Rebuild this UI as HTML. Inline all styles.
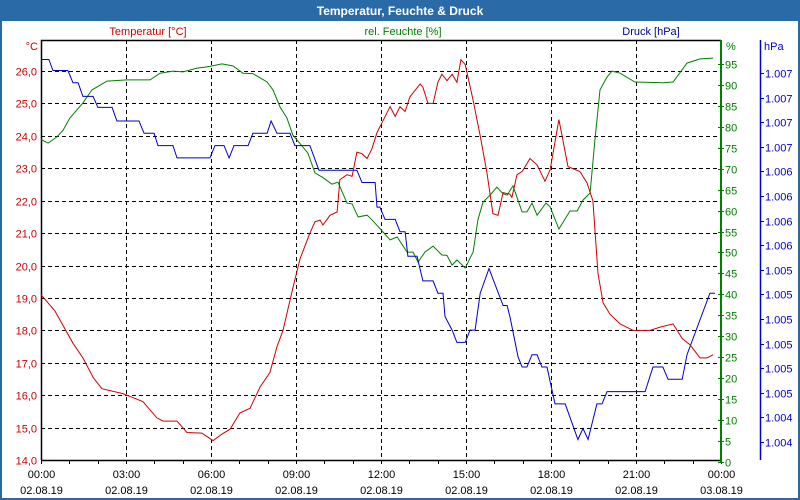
<!DOCTYPE html>
<html><head><meta charset="utf-8"><style>
html,body{margin:0;padding:0;background:#fff;}
svg{display:block;font-family:"Liberation Sans","DejaVu Sans",sans-serif;}
</style></head><body>
<svg id="chart" width="800" height="500" viewBox="0 0 800 500">
<rect x="0" y="0" width="800" height="500" fill="#2a6aa6"/>
<rect x="2" y="21" width="796" height="477" fill="#ffffff"/>
<text x="400" y="15" text-anchor="middle" font-size="12" font-weight="bold" fill="#ffffff">Temperatur, Feuchte &amp; Druck</text>
<text x="148" y="35" text-anchor="middle" font-size="11" fill="#cc0000">Temperatur [°C]</text>
<text x="403" y="35" text-anchor="middle" font-size="11" fill="#008000">rel. Feuchte [%]</text>
<text x="651" y="35" text-anchor="middle" font-size="11" fill="#000099">Druck [hPa]</text>
<text x="38" y="50" text-anchor="end" font-size="11" fill="#cc0000">°C</text>
<text x="726" y="50" font-size="11" fill="#008000">%</text>
<text x="764" y="50" font-size="11" fill="#0000cc">hPa</text>
<g id="grid"></g>
<g id="axes"></g>
<g id="series"></g>
</svg>
<script>
// ---- data ----
const timeTicks = ["00:00","03:00","06:00","09:00","12:00","15:00","18:00","21:00","00:00"];
const dateTicks = ["02.08.19","02.08.19","02.08.19","02.08.19","02.08.19","02.08.19","02.08.19","02.08.19","03.08.19"];
const tempTicks = [14,15,16,17,18,19,20,21,22,23,24,25,26];
const humTicks = [0,5,10,15,20,25,30,35,40,45,50,55,60,65,70,75,80,85,90,95];
const presTickValues = [1007.0,1006.8,1006.6,1006.4,1006.2,1006.0,1005.8,1005.6,1005.4,1005.2,1005.0,1004.8,1004.6,1004.4,1004.2,1004.0];
const presTickLabels = ["1.007","1.007","1.007","1.007","1.006","1.006","1.006","1.006","1.005","1.005","1.005","1.005","1.005","1.005","1.004","1.004"];

const tempHours = [0,0.49,1.13,1.48,1.84,2.15,2.89,3.6,4.09,4.31,4.8,5.15,5.68,6.07,6.39,6.67,7.02,7.38,7.73,8.08,8.33,8.54,8.9,9.14,9.49,9.67,9.85,9.95,10.2,10.45,10.55,10.8,10.98,11.15,11.33,11.51,11.68,11.86,12.32,12.5,12.67,12.85,13.02,13.38,13.48,13.66,13.84,14.01,14.15,14.33,14.51,14.68,14.82,14.97,15.25,15.5,15.74,15.95,16.13,16.31,16.55,16.62,16.8,16.98,17.26,17.51,17.79,17.97,18.28,18.6,19.02,19.27,19.48,19.66,19.84,20.08,20.44,20.9,21.5,21.85,22.31,22.63,22.91,23.26,23.51,23.72];
const tempValues = [19.1,18.6,17.6,17.15,16.55,16.2,16.05,15.8,15.3,15.2,15.2,14.85,14.83,14.6,14.8,14.95,15.45,15.6,16.25,16.7,17.5,18.0,19.35,20.2,21.0,21.35,21.4,21.25,21.55,21.65,22.65,22.8,22.75,23.5,23.45,23.3,23.6,24.1,24.9,24.6,24.9,24.75,25.2,25.6,25.5,25.0,25.0,25.65,25.9,25.7,25.9,25.65,26.35,26.2,25.1,24.0,22.85,21.6,21.55,22.25,22.2,22.1,22.8,22.9,23.3,23.1,22.6,22.95,24.5,23.05,22.9,22.55,22.0,19.75,18.85,18.5,18.2,18.0,18.0,18.1,18.2,17.75,17.55,17.15,17.15,17.25];

const humHours = [0,0.25,0.56,0.78,1.02,1.48,1.8,2.33,3.04,3.85,4.2,4.66,5.01,5.51,5.86,6.39,6.78,7.13,7.48,7.98,8.19,8.44,8.68,8.89,9.14,9.42,9.67,9.92,10.27,10.48,10.8,10.98,11.19,11.51,11.68,12.07,12.32,12.57,12.92,13.13,13.31,13.55,13.84,14.15,14.33,14.51,14.68,14.97,15.25,15.42,15.6,15.85,16.09,16.31,16.45,16.66,16.98,17.15,17.33,17.51,17.82,17.97,18.28,18.67,18.92,19.13,19.38,19.55,19.73,19.98,20.15,20.44,20.96,21.95,22.31,22.8,23.26,23.72];
const humValues = [77,76.1,77.6,79.2,82.1,85.7,88.8,90.9,91.2,91.2,92.8,93.3,93.1,94,94.3,95,94.5,92.8,92.7,90.7,88.8,84.7,82.1,78,76,73.7,69,68,66.3,66.8,61.8,61.6,58.5,58.9,57.8,54.9,53,53.7,50.1,50.1,47.7,50.1,51.5,49.4,49.3,47,48.2,46.3,50.1,57.8,62,63.7,65.6,64,63.7,65.9,59.7,59.7,61.8,58.9,61.8,60.9,55.6,59.9,59.9,62.5,64.2,76.8,88.8,91.9,93.3,92.8,90.7,90.5,90.7,95.2,96.2,96.4];

const presHours = [0,0.28,0.42,0.95,1.13,1.31,1.48,1.84,2.01,2.51,2.68,3.46,3.64,3.99,4.13,4.66,4.8,5.96,6.14,6.46,6.64,6.81,7.31,7.48,7.98,8.12,8.33,8.79,8.96,9.49,9.81,11.15,11.33,11.79,11.86,11.96,12.14,12.5,12.67,12.85,12.95,13.27,13.48,13.84,14.01,14.19,14.26,14.51,14.68,14.97,15.14,15.32,15.5,15.81,16.31,16.45,16.55,16.84,16.98,17.15,17.33,17.51,17.68,17.86,18.14,18.5,18.95,19.13,19.31,19.62,19.8,19.98,21.32,21.6,21.95,22.13,22.63,22.8,23.61,23.79];
const presValues = [1007.11,1007.11,1007.02,1007.02,1006.92,1006.92,1006.81,1006.81,1006.72,1006.72,1006.61,1006.61,1006.51,1006.51,1006.41,1006.41,1006.31,1006.31,1006.41,1006.41,1006.31,1006.41,1006.41,1006.51,1006.51,1006.61,1006.51,1006.51,1006.41,1006.41,1006.21,1006.21,1006.11,1006.11,1005.91,1005.91,1005.81,1005.81,1005.71,1005.71,1005.51,1005.51,1005.31,1005.31,1005.21,1005.21,1005.02,1004.91,1004.81,1004.81,1004.91,1004.91,1005.21,1005.41,1005.11,1005.11,1005.02,1004.69,1004.61,1004.61,1004.71,1004.71,1004.61,1004.61,1004.31,1004.31,1004.02,1004.11,1004.02,1004.31,1004.31,1004.41,1004.41,1004.61,1004.61,1004.51,1004.51,1004.71,1005.21,1005.21];

// ---- scales ----
const X0 = 41, X1 = 721, YT = 40, YB = 460;
const xScale = h => X0 + h * (X1 - X0) / 24;
const yTemp = t => 71 + (26 - t) * 32.42;
const yHum = v => 462 - v * 4.19;
const yPres = p => 442 - (p - 1004.0) / 3.0 * 369;

const NS = "http://www.w3.org/2000/svg";
function mk(tag, attrs, parent, text) {
  const e = document.createElementNS(NS, tag);
  for (const k in attrs) e.setAttribute(k, attrs[k]);
  if (text !== undefined) e.textContent = text;
  parent.appendChild(e);
  return e;
}
const grid = document.getElementById('grid');
const axes = document.getElementById('axes');
const series = document.getElementById('series');

// grid
tempTicks.forEach(t => {
  const y = Math.round(yTemp(t)) + 0.5;
  const l = mk('line', {x1: X0, x2: X1, y1: y, y2: y, stroke: '#000', 'stroke-dasharray': '4,3', 'stroke-width': 1}, grid);
  
  
  const tx = mk('text', {x: 37, y: y + 4, 'text-anchor': 'end', 'font-size': 11, fill: '#cc0000'}, axes, t.toFixed(1).replace('.', ','));
  
  
});
timeTicks.forEach((lab, i) => {
  const x = Math.round(xScale(i * 3)) + 0.5;
  const l = mk('line', {x1: x, x2: x, y1: YT, y2: YB, stroke: '#000', 'stroke-dasharray': '4,3', 'stroke-width': 1}, grid);
  
  
  const t1 = mk('text', {x: x, y: 478, 'text-anchor': 'middle', 'font-size': 11, fill: '#000'}, axes, lab);
  
  
  const t2 = mk('text', {x: x, y: 494, 'text-anchor': 'middle', 'font-size': 11, fill: '#000'}, axes, dateTicks[i]);
  
  
});
for (let h = 0; h <= 24; h++) {
  const x = Math.round(xScale(h)) + 0.5;
  const tk = mk('line', {x1: x, x2: x, y1: YB, y2: YB + 4, stroke: '#000'}, axes);
  
  
}
// plot frame
const fr = mk('path', {d: `M${X0+0.5},${YB} V${YT+0.5} H${X1}`, fill: 'none', stroke: '#000', 'stroke-width': 1.5}, axes);


const xb = mk('line', {x1: X0, x2: X1, y1: YB + 0.5, y2: YB + 0.5, stroke: '#000', 'stroke-width': 1.5}, axes);



// humidity axis
const ga = mk('line', {x1: 721, x2: 721, y1: YT, y2: 463, stroke: '#008000', 'stroke-width': 2}, axes);


humTicks.forEach(v => {
  const y = Math.round(yHum(v)) + 0.5;
  const tk = mk('line', {x1: 718, x2: 724, y1: y, y2: y, stroke: '#008000'}, axes);
  
  
  const tx = mk('text', {x: 725, y: y + 4, 'font-size': 11, fill: '#008000'}, axes, String(v));
  
  
});
// pressure axis
const pa = mk('line', {x1: 760.5, x2: 760.5, y1: YT, y2: YB, stroke: '#0000cc', 'stroke-width': 1.5}, axes);


presTickValues.forEach((v, i) => {
  const y = Math.round(yPres(v)) + 0.5;
  const tk = mk('line', {x1: 760, x2: 764, y1: y, y2: y, stroke: '#0000cc'}, axes);
  
  
  const tx = mk('text', {x: 765, y: y + 4, 'font-size': 11, fill: '#0000cc'}, axes, presTickLabels[i]);
  
  
});

// series
function pts(hours, vals, ys) { return hours.map((h, i) => xScale(h).toFixed(1) + ',' + ys(vals[i]).toFixed(1)).join(' '); }
const ph = mk('polyline', {points: pts(humHours, humValues, yHum), fill: 'none', stroke: '#008000', 'stroke-width': 1}, series);


const pp = mk('polyline', {points: pts(presHours, presValues, yPres), fill: 'none', stroke: '#0000cc', 'stroke-width': 1}, series);


const pt = mk('polyline', {points: pts(tempHours, tempValues, yTemp), fill: 'none', stroke: '#cc0000', 'stroke-width': 1}, series);


</script>
</body></html>
